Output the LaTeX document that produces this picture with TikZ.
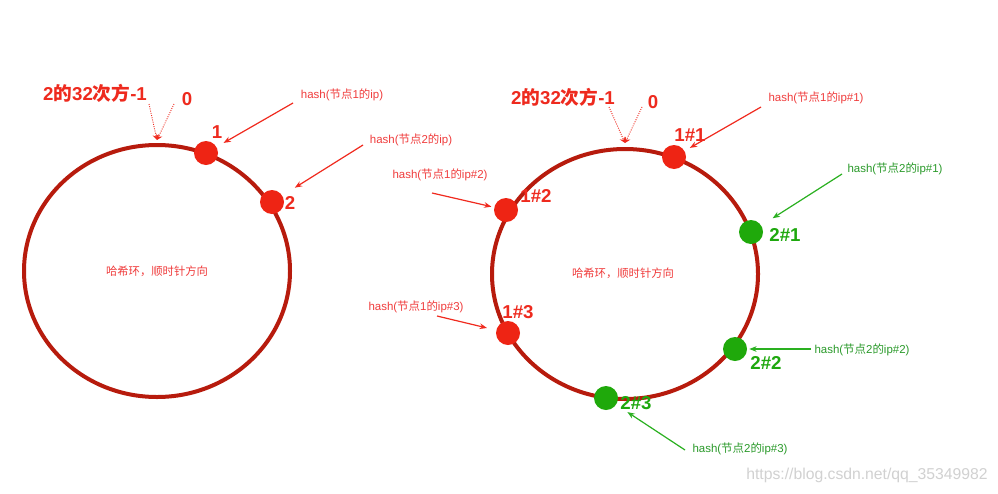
\documentclass[tikz,border=0pt]{standalone}
\usepackage{fontspec}
\setmainfont{Liberation Sans}
\newfontfamily\cjk{Noto Sans CJK SC}
\newcommand{\zh}[1]{{\cjk #1}}
\usetikzlibrary{arrows.meta}
\definecolor{ringc}{HTML}{B71B0D}
\definecolor{dotred}{HTML}{EE2414}
\definecolor{dotgreen}{HTML}{1FA90B}
\definecolor{labred}{HTML}{EE2A1E}
\definecolor{labgreen}{HTML}{1EA80E}
\definecolor{txtred}{HTML}{F03C3C}
\definecolor{txtgreen}{HTML}{2A9A2A}
\definecolor{arrred}{HTML}{F02A1E}
\definecolor{arrgreen}{HTML}{2AB020}
\tikzset{
  ringline/.style={draw=ringc, line width=3pt},
  rdot/.style={circle, fill=dotred, minimum size=18pt, inner sep=0pt},
  gdot/.style={circle, fill=dotgreen, minimum size=18pt, inner sep=0pt},
  biglab/.style={font=\fontsize{14}{16}\selectfont\bfseries, inner sep=0pt},
  redlab/.style={biglab, text=labred},
  greenlab/.style={biglab, text=labgreen},
  hashtxt/.style={font=\fontsize{8.6}{10}\selectfont, inner sep=0pt},
  redtxt/.style={hashtxt, text=txtred},
  greentxt/.style={hashtxt, text=txtgreen},
  ringtxt/.style={font=\fontsize{8.5}{10}\selectfont\cjk, text=txtred, inner sep=0pt},
  redarr/.style={draw=arrred, line width=0.9pt, -{Stealth[length=5.5pt,width=4.2pt]}},
  greenarr/.style={draw=arrgreen, line width=0.9pt, -{Stealth[length=5.5pt,width=4.2pt]}},
  dotarr/.style={draw=arrred, line width=0.7pt, densely dotted, -{Stealth[length=4pt,width=5pt]}},
}
\begin{document}
\begin{tikzpicture}[x=0.75pt,y=-0.75pt]
\useasboundingbox[fill=white] (0,0) rectangle (998,493);

% ---------- left ring ----------
\draw[ringline] (157,271) ellipse [x radius=99.75pt, y radius=94.5pt];
\node[ringtxt] (lc) at (157,271) {哈希环，顺时针方向};

\node[redlab] (ltitle) at (95,93) {2\zh{的}32\zh{次方}-1};
\node[redlab] (lzero) at (187,99) {0};
\coordinate (ltop) at (157,140);
\coordinate (ld1) at (149,104);
\coordinate (ld2) at (174,104);
\draw[dotarr] (ld1) -- (ltop);
\draw[dotarr] (ld2) -- (ltop);

\node[rdot] (n1) at (206,153) {};
\node[rdot] (n2) at (272,202) {};
\node[redlab] (l1) at (217,132) {1};
\node[redlab] (l2) at (290,203) {2};

\node[redtxt] (h1) at (342,95) {hash(\zh{节点}1\zh{的}ip)};
\node[redtxt] (h2) at (411,140) {hash(\zh{节点}2\zh{的}ip)};
\coordinate (s1) at (293,103);
\coordinate (s2) at (363,145);
\draw[redarr, shorten >=6pt] (s1) -- (n1);
\draw[redarr, shorten >=11pt] (s2) -- (n2);

% ---------- right ring ----------
\draw[ringline] (625,274) ellipse [x radius=99.75pt, y radius=93.75pt];
\node[ringtxt] (rc) at (623,273) {哈希环，顺时针方向};

\node[redlab] (rtitle) at (563,97) {2\zh{的}32\zh{次方}-1};
\node[redlab] (rzero) at (653,102) {0};
\coordinate (rtop) at (625,143);
\coordinate (rd1) at (609,107);
\coordinate (rd2) at (642,107);
\draw[dotarr] (rd1) -- (rtop);
\draw[dotarr] (rd2) -- (rtop);

\node[rdot] (a1) at (674,157) {};
\node[rdot] (a2) at (506,210) {};
\node[rdot] (a3) at (508,333) {};
\node[gdot] (b1) at (751,232) {};
\node[gdot] (b2) at (735,349) {};
\node[gdot] (b3) at (606,398) {};

\node[redlab] (la1) at (690,135) {1\#1};
\node[redlab] (la2) at (536,196) {1\#2};
\node[redlab] (la3) at (518,312) {1\#3};
\node[greenlab] (lb1) at (785,235) {2\#1};
\node[greenlab] (lb2) at (766,363) {2\#2};
\node[greenlab] (lb3) at (636,403) {2\#3};

\node[redtxt] (ha1) at (816,98) {hash(\zh{节点}1\zh{的}ip\#1)};
\node[redtxt] (ha2) at (440,175) {hash(\zh{节点}1\zh{的}ip\#2)};
\node[redtxt] (ha3) at (416,307) {hash(\zh{节点}1\zh{的}ip\#3)};
\node[greentxt] (hb1) at (895,169) {hash(\zh{节点}2\zh{的}ip\#1)};
\node[greentxt] (hb2) at (862,350) {hash(\zh{节点}2\zh{的}ip\#2)};
\node[greentxt] (hb3) at (740,449) {hash(\zh{节点}2\zh{的}ip\#3)};

\coordinate (sa1) at (761,107);
\coordinate (sa2) at (432,193);
\coordinate (sa3) at (437,316);
\coordinate (sb1) at (842,174);
\coordinate (sb2) at (811,349);
\coordinate (sb3) at (685,450);
\draw[redarr, shorten >=4.5pt] (sa1) -- (a1);
\draw[redarr, shorten >=2pt] (sa2) -- (a2);
\draw[redarr, shorten >=7pt] (sa3) -- (a3);
\draw[greenarr, shorten >=10pt] (sb1) -- (b1);
\draw[greenarr, shorten >=1.5pt] (sb2) -- (b2);
\draw[greenarr, shorten >=10pt] (sb3) -- (b3);

% watermark
\node[font=\fontsize{11.8}{14}\selectfont, text=black!18, inner sep=0pt] (wm) at (867,475) {https://blog.csdn.net/qq\_35349982};
\end{tikzpicture}
\end{document}
